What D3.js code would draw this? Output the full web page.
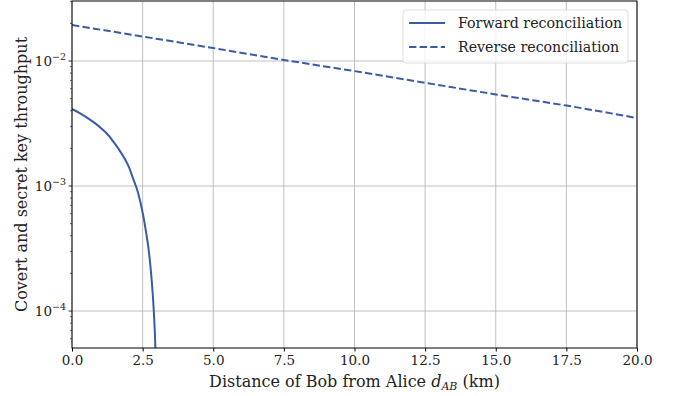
<!DOCTYPE html>
<html>
<head>
<meta charset="utf-8">
<script src="https://cdn.jsdelivr.net/npm/d3@7"></script>
<style>
  body { margin: 0; background: #fff; }
  text { font-family: "DejaVu Serif", serif; fill: #222; }
</style>
</head>
<body>
<svg id="chart" width="681" height="396"></svg>
<script>
// distance d_AB (km) and throughput
const fwdDist = [0, 0.3, 0.57, 0.8, 1.04, 1.28, 1.51, 1.7, 1.86, 2.02, 2.16, 2.34, 2.51, 2.62, 2.70, 2.82, 2.90, 2.95, 2.99];
const fwdVals = [0.00413, 0.00380, 0.00348, 0.00320, 0.00289, 0.00256, 0.00219, 0.00190, 0.00166, 0.00141, 0.00115, 0.000879, 0.000597, 0.00043, 0.000327, 0.000177, 0.000096, 0.000052, 0.00002];

const revDist = [0, 2.5, 5, 7.5, 10, 12.5, 15, 17.5, 20];
const revVals = [0.0194, 0.0157, 0.0127, 0.0102, 0.0083, 0.0067, 0.0054, 0.0044, 0.0035];

const xTicks = [0, 2.5, 5, 7.5, 10, 12.5, 15, 17.5, 20];
const yTicks = [1e-4, 1e-3, 1e-2];
const seriesNames = ["Forward reconciliation", "Reverse reconciliation"];

const color = "#3a5ca8";
const svg = d3.select("#chart");
const pL = 72, pR = 637, pT = 1, pB = 348;

const x = d3.scaleLinear().domain([0, 20]).range([pL, pR]);
const y = d3.scaleLog().domain([5.06e-5, 0.0302]).range([pB, pT]);

// clip region for the plot area
svg.append("clipPath").attr("id", "clip")
  .append("rect").attr("x", pL).attr("y", pT).attr("width", pR - pL).attr("height", pB - pT);

// grid
svg.append("g").selectAll("line").data(xTicks).enter().append("line")
  .attr("x1", d => x(d)).attr("x2", d => x(d))
  .attr("y1", pT).attr("y2", pB)
  .attr("stroke", "#b0b0b0").attr("stroke-width", 0.8);
svg.append("g").selectAll("line").data(yTicks).enter().append("line")
  .attr("x1", pL).attr("x2", pR)
  .attr("y1", d => y(d)).attr("y2", d => y(d))
  .attr("stroke", "#b0b0b0").attr("stroke-width", 0.8);

// lines
const fwd = fwdDist.map((d, i) => [d, fwdVals[i]]);
const rev = revDist.map((d, i) => [d, revVals[i]]);
const line = d3.line().x(d => x(d[0])).y(d => y(d[1])).curve(d3.curveMonotoneX);

const plot = svg.append("g").attr("clip-path", "url(#clip)");
plot.append("path").datum(fwd).attr("d", line)
  .attr("fill", "none").attr("stroke", color).attr("stroke-width", 2);
plot.append("path").datum(rev).attr("d", line)
  .attr("fill", "none").attr("stroke", color).attr("stroke-width", 2)
  .attr("stroke-dasharray", "7.4,3.2");

// x axis
const xAxis = svg.append("g")
  .attr("transform", "translate(0," + pB + ")")
  .call(d3.axisBottom(x).tickValues(xTicks).tickFormat(d3.format(".1f")).tickSize(3.5).tickPadding(4));
xAxis.select(".domain").remove();
xAxis.selectAll("text").attr("font-size", 13.5).attr("font-family", "DejaVu Serif");

// y axis: major ticks, minor ticks, labels with superscripts
const minor = [];
for (let e = -5; e <= -2; e++) for (let m = 2; m <= 9; m++) {
  const v = m * Math.pow(10, e);
  if (v >= y.domain()[0] && v <= y.domain()[1]) minor.push(v);
}
svg.append("g").selectAll("line").data(minor).enter().append("line")
  .attr("x1", pL - 2).attr("x2", pL)
  .attr("y1", d => y(d)).attr("y2", d => y(d))
  .attr("stroke", "#000").attr("stroke-width", 0.6);
svg.append("g").selectAll("line").data(yTicks).enter().append("line")
  .attr("x1", pL - 3.5).attr("x2", pL)
  .attr("y1", d => y(d)).attr("y2", d => y(d))
  .attr("stroke", "#000").attr("stroke-width", 0.8);
const yl = svg.append("g").selectAll("text").data(yTicks).enter().append("text")
  .attr("x", pL - 6).attr("y", d => y(d) + 5)
  .attr("text-anchor", "end").attr("font-size", 13.5);
yl.append("tspan").text("10");
yl.append("tspan").attr("dy", -6).attr("font-size", 9.5)
  .text(d => "\u2212" + Math.round(-Math.log10(d)));

// spines
svg.append("rect").attr("x", pL).attr("y", pT)
  .attr("width", pR - pL).attr("height", pB - pT)
  .attr("fill", "none").attr("stroke", "#000").attr("stroke-width", 1);

// axis labels
const xl = svg.append("text").attr("x", (pL + pR) / 2).attr("y", 387)
  .attr("text-anchor", "middle").attr("font-size", 16);
xl.append("tspan").text("Distance of Bob from Alice ");
xl.append("tspan").attr("font-style", "italic").text("d");
xl.append("tspan").attr("font-style", "italic").attr("font-size", 11).attr("dy", 3).text("AB");
xl.append("tspan").attr("dy", -3).text(" (km)");

svg.append("text")
  .attr("transform", "translate(27," + ((pT + pB) / 2) + ") rotate(-90)")
  .attr("text-anchor", "middle").attr("font-size", 16)
  .text("Covert and secret key throughput");

// legend
const lg = svg.append("g");
lg.append("rect").attr("x", 403).attr("y", 10).attr("width", 225).attr("height", 53).attr("rx", 3)
  .attr("fill", "#fff").attr("fill-opacity", 0.8).attr("stroke", "#d6d6d6").attr("stroke-width", 0.8);
seriesNames.forEach((name, i) => {
  const yy = 23 + i * 24;
  lg.append("line").attr("x1", 409).attr("x2", 445).attr("y1", yy).attr("y2", yy)
    .attr("stroke", color).attr("stroke-width", 2)
    .attr("stroke-dasharray", i === 1 ? "7.4,3.2" : null);
  lg.append("text").attr("x", 458).attr("y", yy + 5).attr("font-size", 14.2).text(name);
});
</script>
</body>
</html>
